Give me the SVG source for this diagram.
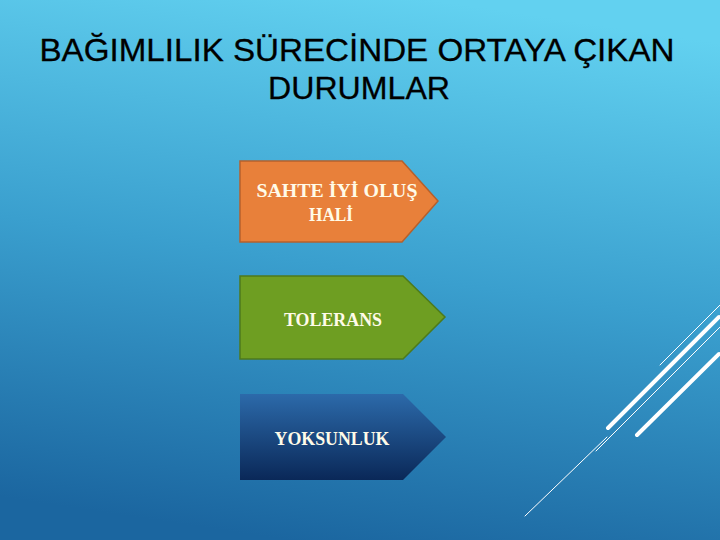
<svg xmlns="http://www.w3.org/2000/svg" width="720" height="540" viewBox="0 0 720 540">
<defs>
<linearGradient id="bg" x1="0.6" y1="0" x2="0.4" y2="1">
<stop offset="0" stop-color="#62d1f0"/>
<stop offset="0.5" stop-color="#3a9fce"/>
<stop offset="1" stop-color="#1b66a0"/>
</linearGradient>
<linearGradient id="blue" x1="0" y1="0" x2="0" y2="1">
<stop offset="0" stop-color="#2c6aaa"/>
<stop offset="1" stop-color="#0a2858"/>
</linearGradient>
<style>
.title{font-family:"Liberation Sans",Arial,sans-serif;font-size:31.5px;fill:#000;text-anchor:middle;stroke:#000;stroke-width:0.3}
.lbl{font-family:"Liberation Serif","Times New Roman",serif;font-weight:bold;font-size:18px;fill:#fffbe8;text-anchor:middle}
.deco{stroke:#ffffff;fill:none;stroke-linecap:round}
</style>
</defs>
<rect width="720" height="540" fill="url(#bg)"/>
<text class="title" x="357" y="61" textLength="635" lengthAdjust="spacingAndGlyphs">BAĞIMLILIK SÜRECİNDE ORTAYA ÇIKAN</text>
<text class="title" x="359" y="99" textLength="182" lengthAdjust="spacingAndGlyphs">DURUMLAR</text>
<g id="n1">
<path d="M240,161 H402 L438,201 L402,242 H240 Z" fill="#e8803a" stroke="#b5602c" stroke-width="1.5"/>
<text class="lbl" x="337" y="197" textLength="161" lengthAdjust="spacingAndGlyphs">SAHTE İYİ OLUŞ</text>
<text class="lbl" x="331" y="221" textLength="44" lengthAdjust="spacingAndGlyphs">HALİ</text>
</g>
<g id="n2">
<path d="M240,276 H403 L445,317 L403,359 H240 Z" fill="#6e9e22" stroke="#4d7a1c" stroke-width="1.5"/>
<text class="lbl" x="333" y="326" textLength="98" lengthAdjust="spacingAndGlyphs">TOLERANS</text>
</g>
<g id="n3">
<path d="M240,394 H403 L446,437 L403,480 H240 Z" fill="url(#blue)"/>
<text class="lbl" x="332" y="445" textLength="115" lengthAdjust="spacingAndGlyphs">YOKSUNLUK</text>
</g>
<g id="deco">
<line class="deco" x1="525" y1="516" x2="607" y2="437" stroke-width="1"/>
<line class="deco" x1="596" y1="451" x2="720" y2="327" stroke-width="1"/>
<line class="deco" x1="608" y1="428" x2="719" y2="317" stroke-width="4"/>
<line class="deco" x1="637" y1="435" x2="719" y2="354" stroke-width="4"/>
<line class="deco" x1="660" y1="365" x2="720" y2="305" stroke-width="1"/>
</g>
</svg>
